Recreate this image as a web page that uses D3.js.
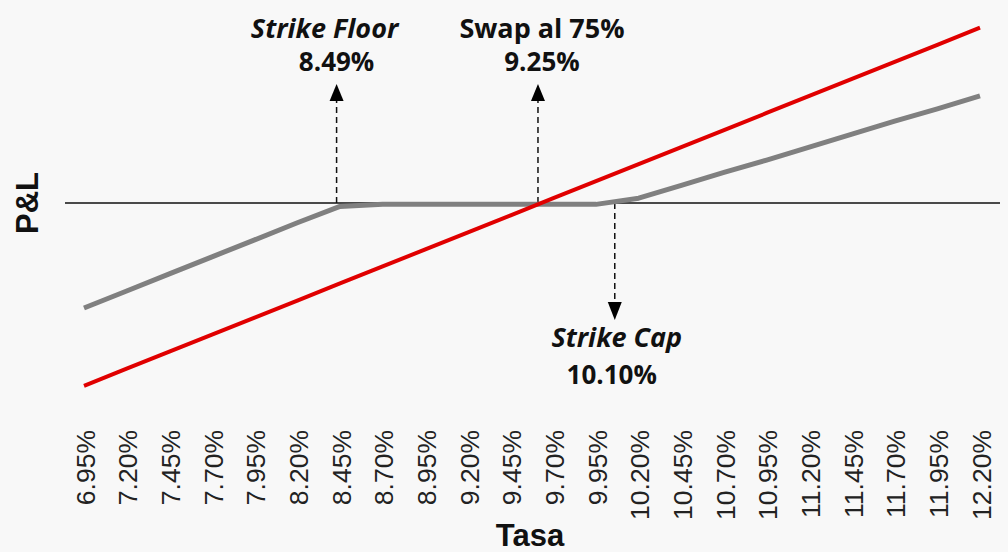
<!DOCTYPE html>
<html>
<head>
<meta charset="utf-8">
<script src="https://cdn.jsdelivr.net/npm/d3@7"></script>
<style>
  body { margin: 0; background: #f8f8f8; }
  svg { display: block; }
</style>
</head>
<body>
<svg width="1008" height="552"></svg>
<script>
// categorias del eje x (tasa, %)
var tasas = [6.95, 7.20, 7.45, 7.70, 7.95, 8.20, 8.45, 8.70, 8.95, 9.20, 9.45,
             9.70, 9.95, 10.20, 10.45, 10.70, 10.95, 11.20, 11.45, 11.70, 11.95, 12.20];
var etiquetas = tasas.map(function(t) { return t.toFixed(2) + "%"; });

// P&L swap (rojo) y collar (gris)
var swap = [-2.68, -2.43, -2.18, -1.93, -1.68, -1.43, -1.18, -0.93, -0.68, -0.43, -0.18,
            0.07, 0.32, 0.57, 0.82, 1.07, 1.32, 1.57, 1.82, 2.07, 2.32, 2.57];
var collar = [-1.54, -1.29, -1.04, -0.79, -0.54, -0.29, -0.05, -0.02, -0.02, -0.02, -0.02,
              -0.02, -0.02, 0.07, 0.26, 0.45, 0.63, 0.82, 1.01, 1.20, 1.38, 1.57];

// anotaciones: posicion en el eje, texto
var anotaciones = [
  {at: 8.43, titulo: "Strike Floor", valor: "8.49%", italica: true, arriba: true, dxT: -12, dxV: 0},
  {at: 9.61, titulo: "Swap al 75%", valor: "9.25%", italica: false, arriba: true, dxT: 4, dxV: 4},
  {at: 10.06, titulo: "Strike Cap", valor: "10.10%", italica: true, arriba: false, dxT: 2, dxV: -3}
];

var svg = d3.select("svg");

var x = d3.scaleLinear()
    .domain([6.95, 12.20])
    .range([84, 980]);

var y = d3.scaleLinear()
    .domain([-1, 1])
    .range([203 + 68.2, 203 - 68.2]);

var line = d3.line()
    .x(function(d) { return x(d.tasa); })
    .y(function(d) { return y(d.v); });

var datosSwap = tasas.map(function(t, i) { return {tasa: t, v: swap[i]}; });
var datosCollar = tasas.map(function(t, i) { return {tasa: t, v: collar[i]}; });

/* linea del cero */
svg.append("line")
    .attr("x1", 65).attr("x2", 1000)
    .attr("y1", y(0)).attr("y2", y(0))
    .attr("stroke", "#111")
    .attr("stroke-width", 1.6);

/* lineas de anotacion con flechas */
anotaciones.forEach(function(a) {
  var ax = x(a.at);
  var y0 = y(0);
  var g = svg.append("g");
  if (a.arriba) {
    g.append("line")
        .attr("x1", ax).attr("x2", ax)
        .attr("y1", y0).attr("y2", 100)
        .attr("stroke", "#111").attr("stroke-width", 1.5)
        .attr("stroke-dasharray", "6,4");
    g.append("path")
        .attr("d", "M" + (ax - 7) + ",101L" + (ax + 7) + ",101L" + ax + ",84Z")
        .attr("fill", "#000");
  } else {
    g.append("line")
        .attr("x1", ax).attr("x2", ax)
        .attr("y1", y0).attr("y2", 303)
        .attr("stroke", "#111").attr("stroke-width", 1.5)
        .attr("stroke-dasharray", "6,4");
    g.append("path")
        .attr("d", "M" + (ax - 7) + ",302L" + (ax + 7) + ",302L" + ax + ",320Z")
        .attr("fill", "#000");
  }
});

/* series */
svg.append("path")
    .datum(datosCollar)
    .attr("fill", "none")
    .attr("stroke", "#808080")
    .attr("stroke-width", 5)
    .attr("stroke-linejoin", "round")
    .attr("d", line);

svg.append("path")
    .datum(datosSwap)
    .attr("fill", "none")
    .attr("stroke", "#e00000")
    .attr("stroke-width", 4)
    .attr("d", line);

/* textos de anotacion */
anotaciones.forEach(function(a) {
  var ax = x(a.at);
  var yt = a.arriba ? 38 : 347;
  var yv = a.arriba ? 71 : 384;
  svg.append("text")
      .attr("x", ax + a.dxT)
      .attr("y", yt)
      .attr("text-anchor", "middle")
      .attr("font-family", "'Open Sans', sans-serif")
      .attr("font-weight", "bold")
      .attr("font-style", a.italica ? "italic" : "normal")
      .attr("font-size", 27)
      .attr("fill", "#111")
      .text(a.titulo);
  svg.append("text")
      .attr("x", ax + a.dxV)
      .attr("y", yv)
      .attr("text-anchor", "middle")
      .attr("font-family", "'Open Sans', sans-serif")
      .attr("font-weight", "bold")
      .attr("font-size", 26)
      .attr("fill", "#111")
      .text(a.valor);
});

/* eje x con etiquetas rotadas */
var xAxis = d3.axisBottom(x)
    .tickValues(tasas)
    .tickSize(0)
    .tickPadding(0)
    .tickFormat(function(d, i) { return etiquetas[i]; });

var gx = svg.append("g")
    .attr("transform", "translate(0,430)")
    .call(xAxis);
gx.select(".domain").remove();
gx.selectAll("text")
    .attr("font-family", "'Liberation Sans', Arial, sans-serif")
    .attr("font-size", 26.5)
    .attr("fill", "#222")
    .attr("text-anchor", "end")
    .attr("dy", null)
    .attr("y", 0)
    .attr("x", 0)
    .attr("transform", "rotate(-90) translate(0,10)");

/* titulos de ejes */
svg.append("text")
    .attr("x", 530)
    .attr("y", 546)
    .attr("text-anchor", "middle")
    .attr("font-family", "'Liberation Sans', Arial, sans-serif")
    .attr("font-weight", "bold")
    .attr("font-size", 31)
    .attr("fill", "#111")
    .text("Tasa");

svg.append("text")
    .attr("transform", "translate(38,203) rotate(-90)")
    .attr("text-anchor", "middle")
    .attr("font-family", "'Liberation Sans', Arial, sans-serif")
    .attr("font-weight", "bold")
    .attr("font-size", 31)
    .attr("fill", "#111")
    .text("P&L");
</script>
</body>
</html>
